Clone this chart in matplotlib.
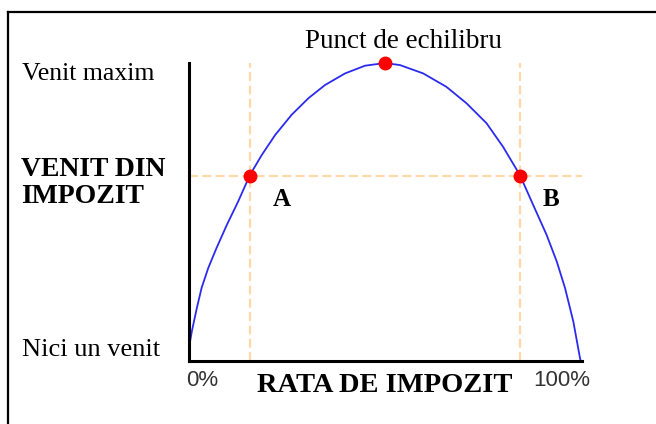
import matplotlib
matplotlib.use("Agg")
import matplotlib.pyplot as plt
from matplotlib.lines import Line2D

# Laffer curve, values (rate %, revenue % of max)
rate = [0, 0.7, 2.0, 3.2, 4.9, 7.0, 9.6, 12.5, 15.5, 18.5, 21.9, 26.1, 30.4, 34.6, 39.7, 44.8, 49.9,
        53.7, 59.6, 65.5, 70.6, 75.7, 79.9, 84.2, 87.6, 91.0, 93.6, 95.7, 97.8, 99.5, 99.7]
revenue = [4.4, 9.8, 17.8, 24.5, 31.2, 37.9, 45.6, 53.5, 62.4, 69.1, 75.8, 82.6, 88.2, 92.6, 96.5, 99.1, 100,
           99.3, 96.5, 92.0, 86.5, 79.8, 71.9, 62.4, 52.3, 42.3, 33.3, 24.4, 13.2, 0.9, 0]

point_names = ["A", "B"]
point_rate = [15.5, 84.2]
point_revenue = [62.2, 62.2]
peak_rate = 49.9
peak_revenue = 100

W, H = 656, 424


def fx(px):
    return px / W


def fy(py):
    return 1 - py / H


serif = "Liberation Serif"
orange = "#FFD8A8"

fig = plt.figure(figsize=(W / 100, H / 100), dpi=100)
ax = fig.add_axes([fx(189), fy(361), 393 / W, 298 / H])
ax.set_xlim(0, 100)
ax.set_ylim(0, 100)
for s in ["top", "right"]:
    ax.spines[s].set_visible(False)
for s in ["left", "bottom"]:
    ax.spines[s].set_linewidth(2.2)
    ax.spines[s].set_color("black")
    ax.spines[s].set_zorder(5)
ax.set_xticks([])
ax.set_yticks([])

# dashed guide lines
ax.axhline(point_revenue[0], color=orange, lw=1.6, ls=(0, (4, 2)), zorder=1)
for r in point_rate:
    ax.axvline(r, color=orange, lw=1.6, ls=(0, (4, 2)), zorder=1)

ax.plot(rate, revenue, color="#2B2BF0", lw=1.3, zorder=3, clip_on=False)

ax.plot(point_rate, point_revenue, "o", color="#FF0000", ms=9, zorder=4, clip_on=False)
ax.plot([peak_rate], [peak_revenue], "o", color="#FF0000", ms=9, zorder=4, clip_on=False)

for name, r, v in zip(point_names, point_rate, point_revenue):
    ax.text(r + 8, v - 8, name, fontsize=18, fontweight="bold", family=serif,
            ha="center", va="center")

# labels around the chart
fig.text(fx(403), fy(42), "Punct de echilibru", fontsize=19.5, family=serif, ha="center", va="center")
fig.text(fx(22), fy(74), "Venit maxim", fontsize=18.5, family=serif, ha="left", va="center")
fig.text(fx(21), fy(183), "VENIT DIN\nIMPOZIT", fontsize=20, family=serif, fontweight="bold",
         ha="left", va="center", linespacing=1.08)
fig.text(fx(22), fy(350), "Nici un venit", fontsize=19, family=serif, ha="left", va="center")
fig.text(fx(385), fy(385), "RATA DE IMPOZIT", fontsize=20.5, family=serif, fontweight="bold",
         ha="center", va="center")
fig.text(fx(186), fy(380), "0%", fontsize=16, family="Liberation Sans", color="#333333",
         ha="left", va="center")
fig.text(fx(533), fy(380), "100%", fontsize=16, family="Liberation Sans", color="#333333",
         ha="left", va="center")

# frame of the original picture
fig.add_artist(Line2D([fx(8), fx(8)], [0, fy(12)], color="black", lw=1.6, transform=fig.transFigure))
fig.add_artist(Line2D([fx(8), 1], [fy(12), fy(12)], color="black", lw=1.6, transform=fig.transFigure))

fig.savefig("out.png", dpi=100)
